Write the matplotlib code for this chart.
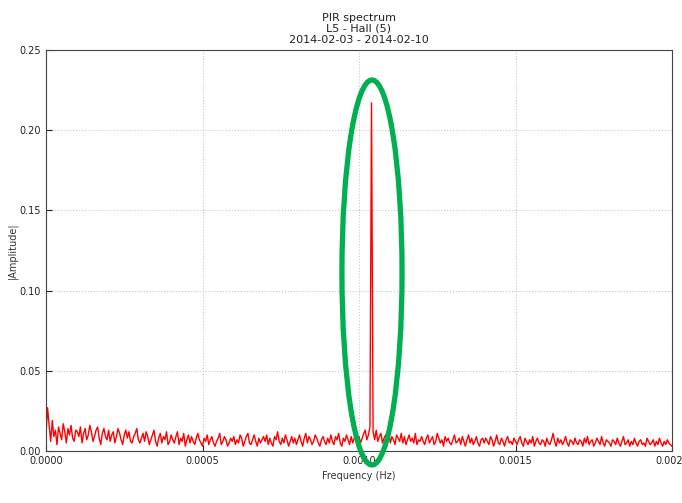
import numpy as np
import matplotlib
matplotlib.use('Agg')
import matplotlib.pyplot as plt
from matplotlib.patches import Ellipse

# Amplitude do espectro (em milesimos), passo de 5e-6 Hz
df = 5e-6
amp_milli = [
    10, 27, 16, 6, 19, 9, 13, 4, 15, 11, 7, 17, 12, 5, 14, 10, 16, 8, 6, 13,
    12, 9, 15, 5, 11, 14, 7, 10, 16, 12, 6, 9, 13, 15, 8, 4, 11, 14, 9, 7,
    13, 6, 10, 12, 5, 9, 14, 11, 7, 4, 10, 13, 8, 12, 6, 5, 9, 11, 14, 7,
    5, 8, 11, 6, 12, 9, 4, 7, 10, 13, 6, 3, 8, 11, 5, 9, 7, 12, 4, 6,
    10, 7, 5, 9, 12, 4, 8, 6, 11, 3, 7, 10, 5, 9, 6, 4, 8, 11, 7, 5,
    3, 8, 6, 10, 4, 7, 9, 5, 3, 6, 8, 11, 4, 6, 9, 7, 3, 5, 8, 6,
    9, 4, 7, 5, 10, 8, 3, 6, 9, 11, 5, 4, 7, 10, 6, 3, 8, 5, 7, 9,
    6, 10, 4, 8, 5, 3, 9, 7, 12, 6, 4, 8, 5, 10, 7, 3, 6, 9, 5, 8,
    4, 7, 10, 6, 3, 8, 11, 5, 9, 7, 4, 6, 10, 8, 5, 3, 7, 9, 6, 4,
    8, 5, 10, 6, 4, 9, 7, 11, 5, 3, 8, 6, 10, 7, 4, 9, 5, 8, 12, 6,
    9, 5, 8, 11, 13, 7, 10, 15, 217, 12, 7, 13, 6, 9, 11, 5, 8, 10, 6, 12,
    5, 9, 7, 4, 10, 8, 6, 11, 5, 9, 4, 7, 10, 6, 8, 5, 11, 4, 7, 6,
    9, 6, 4, 8, 10, 5, 7, 9, 4, 6, 11, 8, 5, 7, 3, 9, 6, 8, 5, 4,
    7, 10, 5, 6, 8, 4, 9, 6, 3, 7, 10, 5, 8, 4, 6, 9, 5, 3, 7, 8,
    5, 8, 6, 4, 9, 7, 3, 6, 10, 5, 4, 8, 6, 3, 7, 9, 5, 6, 4, 8,
    6, 4, 7, 9, 5, 3, 8, 6, 4, 7, 5, 9, 3, 6, 8, 5, 4, 7, 6, 3,
    8, 5, 4, 7, 11, 6, 3, 8, 5, 7, 4, 6, 9, 5, 3, 7, 6, 4, 8, 5,
    4, 7, 6, 3, 8, 5, 9, 4, 6, 7, 3, 5, 8, 6, 4, 9, 5, 3, 7, 6,
    5, 3, 7, 6, 4, 8, 5, 3, 6, 9, 4, 5, 7, 3, 6, 4, 8, 5, 3, 6,
    7, 4, 5, 3, 8, 6, 4, 5, 7, 3, 6, 4, 8, 5, 3, 6, 4, 7, 5, 4, 3,
]
amp = np.array(amp_milli) / 1000.0
freq = np.arange(len(amp)) * df

xticks = [0.0, 0.0005, 0.0010, 0.0015, 0.0020]
yticks = [0.00, 0.05, 0.10, 0.15, 0.20, 0.25]

fig = plt.figure(figsize=(6.82, 5.03), dpi=100)
ax = fig.add_axes([46 / 682, 52 / 503, 626 / 682, 401 / 503])
ax.plot(freq, amp, color='red', lw=1.0)

ax.set_xlim(0, 0.002)
ax.set_ylim(0, 0.25)
ax.set_xticks(xticks)
ax.set_xticklabels(['%.4f' % v for v in xticks])
ax.set_yticks(yticks)
ax.set_yticklabels(['%.2f' % v for v in yticks])
ax.tick_params(direction='in', labelsize=7, length=4, colors='#222222')
ax.grid(True, color='0.78', ls=':', lw=0.8)
for s in ax.spines.values():
    s.set_color('#444444')

ax.set_title('PIR spectrum\nL5 - Hall (5)\n2014-02-03 - 2014-02-10',
             fontsize=8, linespacing=1.15, pad=5, color='#222222')
ax.set_xlabel('Frequency (Hz)', fontsize=7, color='#333333', labelpad=4)
ax.set_ylabel('|Amplitude|', fontsize=7, color='#333333')
ax.yaxis.set_label_coords(-0.045, 0.5)

# Elipse verde destacando o pico
ell = Ellipse((0.0010415, 0.1113), 0.000192, 0.240, fill=False,
              edgecolor='#00b050', lw=3.8, clip_on=False, zorder=10)
ax.add_patch(ell)

plt.savefig('out.png', dpi=100)
